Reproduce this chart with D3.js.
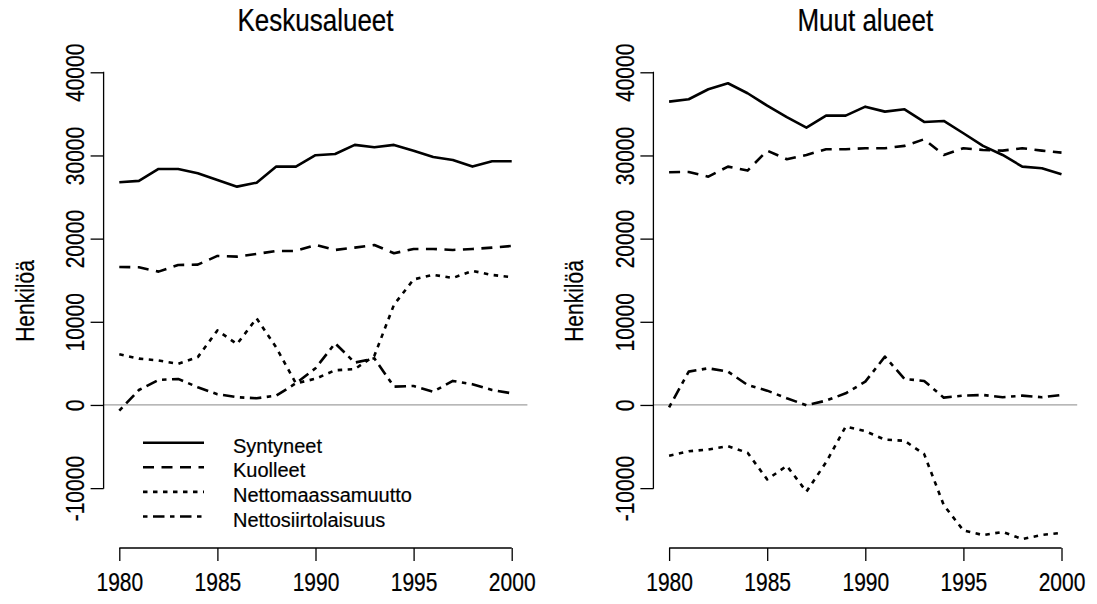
<!DOCTYPE html>
<html>
<head>
<meta charset="utf-8">
<script src="https://cdn.jsdelivr.net/npm/d3@7"></script>
<style>
  html, body { margin: 0; padding: 0; background: #fff; }
  text { font-family: "Liberation Sans", Arial, Helvetica, sans-serif; fill: #000; stroke: #000; stroke-width: 0.2px; }
</style>
</head>
<body>
<svg id="chart" width="1097" height="604"></svg>
<script>
// ---- data ----
const years = [1980,1981,1982,1983,1984,1985,1986,1987,1988,1989,1990,1991,1992,1993,1994,1995,1996,1997,1998,1999,2000];
const panelTitles = ["Keskusalueet", "Muut alueet"];
const seriesNames = ["Syntyneet", "Kuolleet", "Nettomaassamuutto", "Nettosiirtolaisuus"];
const yTicks = [-10000, 0, 10000, 20000, 30000, 40000];
const xTicks = [1980, 1985, 1990, 1995, 2000];
const yLabel = "Henkilöä";

// Keskusalueet
const kSyntyneet = [26780,26940,28380,28380,27860,27060,26250,26730,28660,28660,30030,30180,31270,30990,31270,30580,29820,29460,28660,29300,29300];
const kKuolleet = [16590,16550,16030,16830,16870,17920,17840,18160,18520,18520,19240,18640,18920,19240,18240,18760,18760,18640,18760,18920,19120];
const kNettomaassamuutto = [6100,5570,5350,4950,5750,8960,7320,10420,6900,2600,3150,4170,4310,5910,12050,15090,15650,15270,16120,15630,15370];
const kNettosiirtolaisuus = [-680,1800,3010,3130,2130,1290,930,810,1120,2610,4410,7420,5090,5610,2200,2280,1600,2890,2490,1800,1400];

// Muut alueet
const mSyntyneet = [36470,36760,37960,38680,37480,35990,34600,33350,34790,34790,35870,35270,35550,34030,34150,32670,31150,30060,28660,28460,27740];
const mKuolleet = [27980,28020,27450,28660,28180,30580,29540,30060,30750,30750,30870,30870,31150,31950,30060,30870,30660,30580,30870,30580,30340];
const mNettomaassamuutto = [-6100,-5570,-5350,-4950,-5750,-8960,-7320,-10420,-6900,-2600,-3150,-4170,-4310,-5910,-12050,-15090,-15650,-15270,-16120,-15630,-15370];
const mNettosiirtolaisuus = [-280,4010,4410,4010,2400,1720,810,-40,520,1400,2800,5810,3130,2890,880,1120,1200,930,1120,930,1200];

const panels = [
  { title: panelTitles[0], series: [kSyntyneet, kKuolleet, kNettomaassamuutto, kNettosiirtolaisuus], legend: true },
  { title: panelTitles[1], series: [mSyntyneet, mKuolleet, mNettomaassamuutto, mNettosiirtolaisuus], legend: false }
];

// ---- styles ----
const dashes = [null, "11,7.5", "4.5,5.5", "4.5,5.5,11.5,5.5"];
const lineW = 2.6;
const glyphStretch = 1.22;

const svg = d3.select("#chart");

const plotTop = 54, plotBottom = 548;
const panelLeft = [103.6, 653.4];
const plotWidth = 423.8;

const y = d3.scaleLinear().domain([-17200, 42200]).range([plotBottom, plotTop]);
const fmt = d => String(d);

panels.forEach((p, i) => {
  const left = panelLeft[i];
  const x = d3.scaleLinear().domain([1979.2, 2000.8]).range([left, left + plotWidth]);
  const g = svg.append("g");

  // title
  g.append("text")
    .attr("transform", `translate(${left + plotWidth / 2},31) scale(1,${glyphStretch})`)
    .attr("text-anchor", "middle")
    .style("font-size", "26px")
    .text(p.title);

  // zero line
  g.append("line")
    .attr("x1", left).attr("x2", left + plotWidth)
    .attr("y1", y(0)).attr("y2", y(0))
    .attr("stroke", "#a0a0a0").attr("stroke-width", 1.2);

  // y axis
  const ya = g.append("g").attr("transform", `translate(${left},0)`)
    .call(d3.axisLeft(y).tickValues(yTicks).tickSize(13).tickPadding(6).tickFormat(fmt));
  ya.select(".domain").attr("d", `M-0.5,${y(40000)}H0V${y(-10000)}H-0.5`).attr("stroke", "#000").attr("stroke-width", 1.3);
  ya.selectAll(".tick line").attr("stroke", "#000").attr("stroke-width", 1.3);
  ya.selectAll(".tick text")
    .attr("x", null).attr("dy", null)
    .attr("text-anchor", "middle")
    .attr("transform", `translate(-19.5,0) rotate(-90) scale(1,${glyphStretch})`)
    .attr("y", 0)
    .style("font-size", "21px")
    .style("font-family", '"Liberation Sans", Arial, sans-serif')
    .attr("fill", "#000");

  // x axis
  const xa = g.append("g").attr("transform", `translate(0,${plotBottom})`)
    .call(d3.axisBottom(x).tickValues(xTicks).tickSize(13).tickPadding(8).tickFormat(fmt));
  xa.select(".domain").attr("d", `M${x(1980)},0H${x(2000)}`).attr("stroke", "#000").attr("stroke-width", 1.3);
  xa.selectAll(".tick line").attr("stroke", "#000").attr("stroke-width", 1.3);
  xa.selectAll(".tick text")
    .attr("dy", null).attr("y", 0)
    .attr("transform", `translate(0,43) scale(1,${glyphStretch})`)
    .style("font-size", "21px")
    .style("font-family", '"Liberation Sans", Arial, sans-serif')
    .attr("fill", "#000");

  // y label
  g.append("text")
    .attr("transform", `translate(${left - 70},301) rotate(-90) scale(1,${glyphStretch})`)
    .attr("text-anchor", "middle")
    .style("font-size", "21px")
    .text(yLabel);

  // lines
  const line = d3.line().x((d, k) => x(years[k])).y(d => y(d));
  p.series.forEach((s, k) => {
    g.append("path")
      .datum(s)
      .attr("d", line)
      .attr("fill", "none")
      .attr("stroke", "#000")
      .attr("stroke-width", lineW)
      .attr("stroke-linejoin", "round")
      .attr("stroke-dasharray", dashes[k]);
  });

  // legend
  if (p.legend) {
    const ly0 = 442.7, ldy = 24.6;
    seriesNames.forEach((name, k) => {
      const yy = ly0 + k * ldy;
      g.append("line")
        .attr("x1", 143).attr("x2", 204)
        .attr("y1", yy).attr("y2", yy)
        .attr("stroke", "#000").attr("stroke-width", lineW)
        .attr("stroke-dasharray", dashes[k]);
      g.append("text")
        .attr("x", 233).attr("y", yy + 10)
        .style("font-size", "20px")
        .text(name);
    });
  }
});
</script>
</body>
</html>
